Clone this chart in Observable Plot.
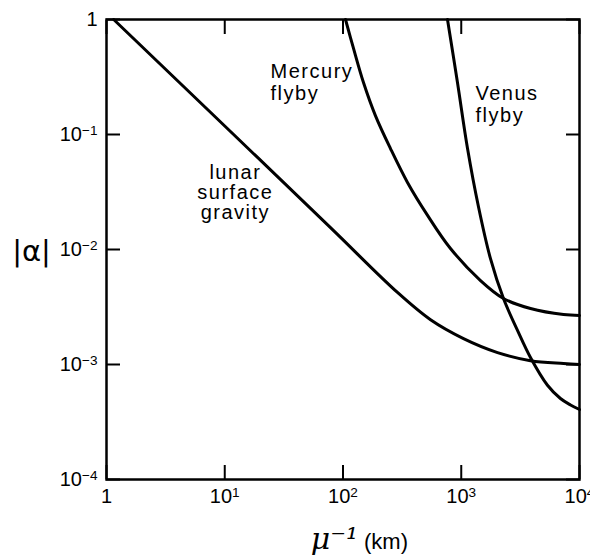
<!DOCTYPE html>
<html><head><meta charset="utf-8">
<script src="https://cdn.jsdelivr.net/npm/d3@7"></script>
<script src="https://cdn.jsdelivr.net/npm/@observablehq/plot@0.6"></script>
<style>
body{margin:0;background:#fff;}
text[aria-label="curve label"]{letter-spacing:1.5px;}
</style></head><body><div id="chart"></div>
<script>
// Curves (x = mu^-1 in km, y = |alpha|)
const lunarX   = [1.15, 10, 78.4, 289, 550, 1045, 2027, 3850, 7330, 10000];
const lunarY   = [1, 0.1186, 0.0155, 0.00423, 0.00245, 0.00168, 0.00127, 0.00108, 0.00102, 0.001];
const mercuryX = [105, 122.7, 149, 188, 252, 351, 519, 811, 1455, 2276, 3850, 7330, 10000];
const mercuryY = [1, 0.56, 0.283, 0.146, 0.0755, 0.0383, 0.0198, 0.0102, 0.00537, 0.00375, 0.00307, 0.00272, 0.00267];
const venusX   = [765, 929, 1130, 1400, 1767, 2276, 2990, 3850, 5360, 6900, 8400, 10000];
const venusY   = [1, 0.283, 0.0755, 0.0234, 0.00832, 0.00375, 0.00198, 0.00115, 0.00066, 0.000506, 0.000445, 0.000406];

const xTicks = [1, 10, 100, 1000, 10000];
const xTickLabels = ["1", "10¹", "10²", "10³", "10⁴"];
const yTicks = [1e-4, 1e-3, 1e-2, 1e-1, 1];
const yTickLabels = ["10⁻⁴", "10⁻³", "10⁻²", "10⁻¹", "1"];

// curve annotations (anchor point in data units)
const leftLabels = [
  {t: "Mercury\nflyby", x: 24.4, y: 0.289},
  {t: "Venus\nflyby", x: 1320, y: 0.186}
];
const centerLabels = [
  {t: "lunar\nsurface\ngravity", x: 12.3, y: 0.0313}
];

const series = [
  {name: "lunar", xs: lunarX, ys: lunarY},
  {name: "mercury", xs: mercuryX, ys: mercuryY},
  {name: "venus", xs: venusX, ys: venusY}
];
const rows = series.flatMap(s => s.xs.map((x, i) => ({series: s.name, x, y: s.ys[i]})));

const xfmt = d => xTickLabels[xTicks.indexOf(d)];
const yfmt = d => yTickLabels[yTicks.findIndex(v => Math.abs(Math.log10(v) - Math.log10(d)) < 1e-6)];
const font = "Liberation Sans, Arial, sans-serif";
const lab = {x: "x", y: "y", text: "t", lineAnchor: "middle", fontSize: 20, fill: "#000", ariaLabel: () => "curve label"};

const chart = Plot.plot({
  width: 590, height: 558,
  marginLeft: 106, marginRight: 11, marginTop: 19, marginBottom: 79,
  style: {fontFamily: font, background: "#fff", color: "#000", overflow: "visible"},
  x: {type: "log", domain: [1, 1e4]},
  y: {type: "log", domain: [1e-4, 1]},
  marks: [
    Plot.axisX({anchor: "bottom", ticks: xTicks, tickSize: -14, strokeWidth: 2, fill: "none", label: null}),
    Plot.axisX({anchor: "top", ticks: xTicks, tickSize: -14, strokeWidth: 2, fill: "none", label: null}),
    Plot.axisY({anchor: "left", ticks: yTicks, tickSize: -14, strokeWidth: 2, fill: "none", label: null}),
    Plot.axisY({anchor: "right", ticks: yTicks, tickSize: -14, strokeWidth: 2, fill: "none", label: null}),
    Plot.axisX({anchor: "bottom", ticks: xTicks, tickSize: 0, tickPadding: 9, tickFormat: xfmt, fontSize: 20, label: null}),
    Plot.axisY({anchor: "left", ticks: yTicks, tickSize: 0, tickPadding: 9, tickFormat: yfmt, fontSize: 20, label: null}),
    Plot.frame({stroke: "#000", strokeWidth: 2.5}),
    Plot.line(rows, {x: "x", y: "y", z: "series", stroke: "#000", strokeWidth: 3, curve: "catmull-rom"}),
    Plot.text(leftLabels, {...lab, textAnchor: "start", lineHeight: 1.1}),
    Plot.text(centerLabels, {...lab, textAnchor: "middle", lineHeight: 1.0}),
    Plot.text(["|α|"], {frameAnchor: "left", dx: -75, dy: 2, textAnchor: "middle", lineAnchor: "middle", fontSize: 29, fontFamily: "DejaVu Sans", fill: "#000"}),
    Plot.text(["μ⁻¹"], {frameAnchor: "bottom", dx: 15, dy: 60, textAnchor: "end", lineAnchor: "middle", fontSize: 30, fontStyle: "italic", fontFamily: "DejaVu Serif", fill: "#000"}),
    Plot.text(["(km)"], {frameAnchor: "bottom", dx: 21, dy: 62, textAnchor: "start", lineAnchor: "middle", fontSize: 22, fill: "#000"})
  ]
});

// render exponents of tick labels as raised, smaller text
const supMap = {"⁻": "−", "¹": "1", "²": "2", "³": "3", "⁴": "4"};
d3.select(chart).selectAll('g[aria-label$="tick label"] text').each(function() {
  const m = this.textContent.match(/^10(.+)$/);
  if (!m) return;
  const exp = [...m[1]].map(c => supMap[c] ?? c).join("");
  const sel = d3.select(this);
  sel.text("10");
  sel.append("tspan").attr("dy", "-0.45em").attr("font-size", "0.68em").text(exp);
});
document.getElementById("chart").appendChild(chart);
</script></body></html>
